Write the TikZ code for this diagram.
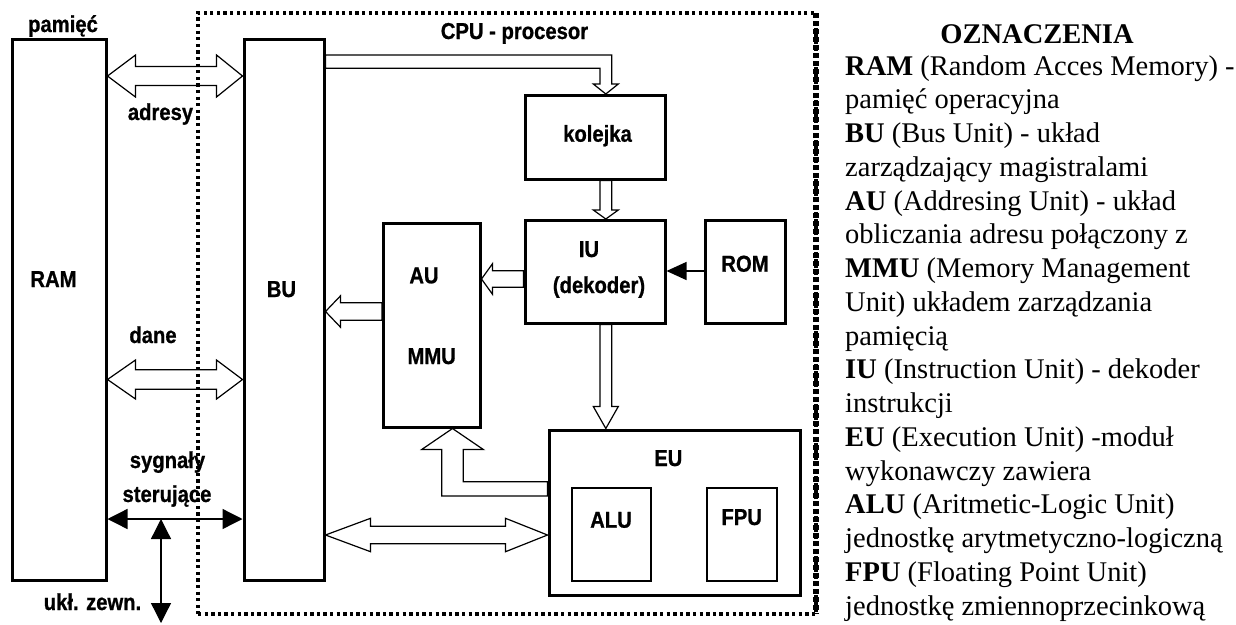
\documentclass[tikz,border=0pt]{standalone}
\usepackage{fontspec}
\setmainfont{Liberation Serif}
\newfontfamily\labfont[FakeStretch=0.88,FakeBold=0.8]{Liberation Sans}
\usetikzlibrary{arrows.meta,calc}

% double horizontal block arrow: #1 left tip, #2 right tip, #3 shaft half, #4 head half, #5 left head length, #6 right head length
\newcommand\dblH[6]{\draw[hollow] (#1) -- ($(#1)+(#5,-#4)$) -- ($(#1)+(#5,-#3)$) -- ($(#2)+(-#6,-#3)$) -- ($(#2)+(-#6,-#4)$) -- (#2) -- ($(#2)+(-#6,#4)$) -- ($(#2)+(-#6,#3)$) -- ($(#1)+(#5,#3)$) -- ($(#1)+(#5,#4)$) -- cycle;}
% left pointing block arrow: #1 tip, #2 tail, #3 shaft half, #4 head half, #5 head length
\newcommand\arrL[5]{\draw[hollow] (#1) -- ($(#1)+(#5,-#4)$) -- ($(#1)+(#5,-#3)$) -- ($(#2)+(0,-#3)$) -- ($(#2)+(0,#3)$) -- ($(#1)+(#5,#3)$) -- ($(#1)+(#5,#4)$) -- cycle;}
% down pointing block arrow: #1 tip, #2 tail (above)
\newcommand\arrD[5]{\draw[hollow] (#1) -- ($(#1)+(-#4,-#5)$) -- ($(#1)+(-#3,-#5)$) -- ($(#2)+(-#3,0)$) -- ($(#2)+(#3,0)$) -- ($(#1)+(#3,-#5)$) -- ($(#1)+(#4,-#5)$) -- cycle;}

\begin{document}
\begin{tikzpicture}[x=1pt,y=-1pt,
  blk/.style={draw, line width=3pt, inner sep=0pt, outer sep=1.5pt, rectangle},
  thinblk/.style={draw, line width=2pt, inner sep=0pt, outer sep=1pt, rectangle},
  lab/.style={font=\labfont\bfseries\fontsize{23}{26}\selectfont, inner sep=0pt, anchor=base},
  leg/.style={font=\fontsize{28.5}{33.75}\selectfont, inner sep=0pt, anchor=base west},
  hollow/.style={draw, line width=1.2pt, line join=miter},
  sig/.style={draw, line width=1.3pt},
  tipA/.style={{Triangle[length=20pt,width=20pt]}-{Triangle[length=20pt,width=20pt]}},
  tipB/.style={-{Triangle[length=20pt,width=18pt]}}
]
\path[fill=white, use as bounding box] (0,0) rectangle (1236,624);

% CPU frame
\node[draw, line width=3.5pt, dash pattern=on 3.3pt off 3.3pt, inner sep=0pt, outer sep=0pt,
      minimum width=618pt, minimum height=601pt] (cpu) at (507,313.5) {};
\draw[line width=5.5pt, dash pattern=on 5pt off 3pt] (cpu.north east) -- (cpu.south east);

% boxes
\node[blk, minimum width=94pt, minimum height=541.5pt] (ram) at (59,309.75) {};
\node[blk, minimum width=80pt, minimum height=541.5pt] (bu) at (284,309.75) {};
\node[blk, minimum width=140pt, minimum height=83.5pt] (kol) at (595,137.25) {};
\node[blk, minimum width=140pt, minimum height=102.5pt] (iu) at (595,271.75) {};
\node[blk, minimum width=80.5pt, minimum height=102.5pt] (rom) at (745.25,271.75) {};
\node[blk, minimum width=96.5pt, minimum height=203.5pt] (au) at (431.75,325.25) {};
\node[blk, minimum width=251.5pt, minimum height=165.5pt] (eu) at (674.75,512.75) {};
\node[thinblk, minimum width=79.3pt, minimum height=93.6pt] (alu) at (611.65,534.5) {};
\node[thinblk, minimum width=70pt, minimum height=93.6pt] (fpu) at (741.7,534.5) {};

% labels
\node[lab] (pamlab) at (63,32) {pamięć};
\node[lab] (ramlab) at (53.5,287) {RAM};
\node[lab] (bulab) at (281.5,297) {BU};
\node[lab] (adrlab) at (160.5,120) {adresy};
\node[lab] (danlab) at (153,343) {dane};
\node[lab] (syglab) at (167.5,468) {sygnały};
\node[lab] (sterlab) at (167,502) {sterujące};
\node[lab] (ukllab) at (92.5,610) {ukł. zewn.};
\node[lab] (cpulab) at (514.5,39) {CPU - procesor};
\node[lab] (kollab) at (597.5,141.7) {kolejka};
\node[lab] (iulab) at (589,257) {IU};
\node[lab] (deklab) at (599,293) {(dekoder)};
\node[lab] (romlab) at (745,271.7) {ROM};
\node[lab] (aulab) at (424,283.3) {AU};
\node[lab] (mmulab) at (431.7,364) {MMU};
\node[lab] (eulab) at (668.3,466) {EU};
\node[lab] (alulab) at (611,527.7) {ALU};
\node[lab] (fpulab) at (741.7,525) {FPU};

% bus arrows RAM <-> BU
\coordinate (adrL) at (ram.east |- 0,76);
\coordinate (adrR) at (bu.west |- 0,76);
\dblH{adrL}{adrR}{9.5}{21}{28}{26}
\coordinate (danL) at (ram.east |- 0,379.5);
\coordinate (danR) at (bu.west |- 0,379.5);
\dblH{danL}{danR}{9.7}{19.5}{28}{26}

% control signals
\coordinate (sL) at (ram.east |- 0,519);
\coordinate (sR) at (bu.west |- 0,519);
\draw[sig, tipA] (sL) -- (sR);
\coordinate (sTop) at (sL -| 161,0);
\coordinate (sBot) at (161,623);
\draw[sig, tipA] (sTop) -- (sBot);

% BU -> kolejka (bent)
\coordinate (bk1) at (bu.east |- 0,55);
\coordinate (bk2) at (bu.east |- 0,68.3);
\coordinate (kT) at ($(kol.north)+(10.8,0)$);
\coordinate (kA) at ($(kT)+(-5.85,0)$);
\coordinate (kB) at ($(kT)+(5.85,0)$);
\draw[hollow] (kT) -- ($(kT)+(-12.5,-10)$) -- ($(kT)+(-5.85,-10)$) -- (kA |- bk2) -- (bk2) -- (bk1) -- (kB |- bk1) -- ($(kT)+(5.85,-10)$) -- ($(kT)+(12.5,-10)$) -- cycle;

% kolejka -> IU
\coordinate (kiT) at ($(iu.north)+(10.8,0)$);
\coordinate (kiE) at ($(kol.south)+(10.8,0)$);
\arrD{kiT}{kiE}{5.85}{12.5}{9}

% IU -> EU
\coordinate (ieT) at (eu.north -| kiT);
\coordinate (ieE) at ($(iu.south)+(10.8,0)$);
\arrD{ieT}{ieE}{5.85}{12.5}{22}

% ROM -> IU
\coordinate (r1) at (rom.west |- 0,271);
\coordinate (r2) at (iu.east |- 0,271);
\draw[sig, tipB] (r1) -- (r2);

% IU -> AU
\coordinate (iaT) at (au.east |- 0,279);
\coordinate (iaE) at (iu.west |- 0,279);
\arrL{iaT}{iaE}{8.3}{15.3}{11}

% AU -> BU
\coordinate (abT) at (bu.east |- 0,311.5);
\coordinate (abE) at (au.west |- 0,311.5);
\arrL{abT}{abE}{8.7}{15.7}{15}

% EU -> AU (bent)
\coordinate (eT) at (au.south -| 452.5,0);
\coordinate (eA) at ($(eT)+(-10.8,0)$);
\coordinate (eB) at ($(eT)+(10.8,0)$);
\coordinate (e1) at (eu.west |- 0,481.7);
\coordinate (e2) at (eu.west |- 0,496);
\draw[hollow] (eT) -- ($(eT)+(-30.8,21)$) -- ($(eT)+(-10.8,21)$) -- (eA |- e2) -- (e2) -- (e1) -- (eB |- e1) -- ($(eT)+(10.8,21)$) -- ($(eT)+(30.8,21)$) -- cycle;

% BU <-> EU
\coordinate (beL) at (bu.east |- 0,535);
\coordinate (beR) at (eu.west |- 0,535);
\dblH{beL}{beR}{8.7}{16.7}{45}{42}

% legend
\node[font=\bfseries\fontsize{28.5}{33.75}\selectfont, inner sep=0pt, anchor=base] (oz) at (1037,43) {OZNACZENIA};
\foreach \t [count=\i from 0] in {
  {\textbf{RAM} (Random Acces Memory) -},
  {pamięć operacyjna},
  {\textbf{BU} (Bus Unit) - układ},
  {zarządzający magistralami},
  {\textbf{AU} (Addresing Unit) - układ},
  {obliczania adresu połączony z},
  {\textbf{MMU} (Memory Management},
  {Unit) układem zarządzania},
  {pamięcią},
  {\textbf{IU} (Instruction Unit) - dekoder},
  {instrukcji},
  {\textbf{EU} (Execution Unit) -moduł},
  {wykonawczy zawiera},
  {\textbf{ALU} (Aritmetic-Logic Unit)},
  {jednostkę arytmetyczno-logiczną},
  {\textbf{FPU} (Floating Point Unit)},
  {jednostkę zmiennoprzecinkową}}
  \node[leg] (leg\i) at (845,75+33.75*\i) {\t};
\end{tikzpicture}
\end{document}
